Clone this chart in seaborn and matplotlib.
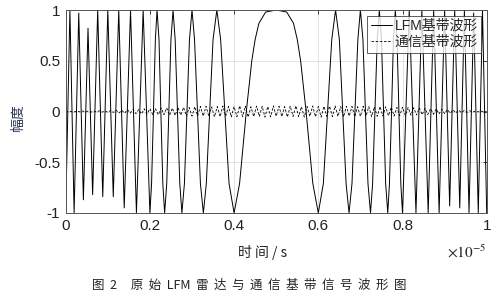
import numpy as np
import pandas as pd
import matplotlib
matplotlib.use("Agg")
import matplotlib.pyplot as plt
import seaborn as sns

# ---- data (time in units of 1e-5 s) ----
lfm_t = [0.000, 0.010, 0.020, 0.031, 0.042, 0.053, 0.064, 0.076, 0.088, 0.100,
         0.113, 0.126, 0.139, 0.154, 0.168, 0.184,
         0.200, 0.204, 0.2085, 0.213, 0.217, 0.2216, 0.226, 0.2307, 0.235,
         0.240, 0.245, 0.250, 0.255, 0.260, 0.2655, 0.271,
         0.276, 0.282, 0.288, 0.294, 0.300, 0.306, 0.313, 0.320, 0.327, 0.334,
         0.342, 0.350, 0.359, 0.368, 0.378, 0.388, 0.400, 0.413, 0.429, 0.442,
         0.450, 0.459, 0.475, 0.500, 0.525, 0.541, 0.550, 0.558, 0.571, 0.587,
         0.600, 0.612, 0.622, 0.632, 0.641, 0.650, 0.658, 0.666, 0.673, 0.680,
         0.687, 0.694, 0.700, 0.706, 0.712, 0.718, 0.724,
         0.729, 0.7345, 0.740, 0.745, 0.750, 0.755, 0.760, 0.765,
         0.769, 0.774, 0.7785, 0.783, 0.787, 0.7915, 0.796,
         0.800, 0.816, 0.832, 0.846, 0.861, 0.874, 0.887, 0.900, 0.912, 0.924,
         0.936, 0.947, 0.958, 0.969, 0.980, 0.990, 1.000]
lfm_y = [-1, 1, -1, 0.97, -0.87, 0.82, -0.82, 1, -0.84, 1,
         -0.84, 1, -0.95, 1, -1, 1,
         -1, -0.71, 0, 0.71, 1, 0.71, 0, -0.71, -1,
         -0.71, 0, 0.71, 1, 0.71, 0, -0.71,
         -1, -0.71, 0, 0.71, 1, 0.71, 0, -0.71, -1, -0.71,
         0, 0.71, 1, 0.71, 0, -0.71, -1, -0.71, 0, 0.5,
         0.71, 0.87, 0.98, 1, 0.98, 0.87, 0.71, 0.5, 0, -0.71,
         -1, -0.71, 0, 0.71, 1, 0.71, 0, -0.71, -1, -0.71,
         0, 0.71, 1, 0.71, 0, -0.71, -1,
         -0.71, 0, 0.71, 1, 0.71, 0, -0.71, -1,
         -0.71, 0, 0.71, 1, 0.71, 0, -0.71,
         -1, 1, -1, 1, -1, 1, -1, 1, -0.93, 1,
         -0.95, 1, -1, 0.97, -1, 1, -1]

comm_y = [0.002, -0.003, 0.002, -0.004, 0.003, -0.003, 0.005, -0.004, 0.004, -0.006,
          0.005, -0.005, 0.007, -0.006, 0.006, -0.008,
          0.010, -0.009, 0.012, -0.014, 0.011, -0.016, 0.018, -0.015, 0.020, -0.022,
          0.019, -0.024, 0.026, -0.023, 0.028,
          -0.030, 0.027, -0.033, 0.035, -0.031, 0.036, -0.038, 0.034, -0.040, 0.042,
          -0.037, 0.041, -0.044, 0.039, -0.045,
          0.047, -0.043, 0.050, -0.046, 0.052, -0.048, 0.045, -0.053, 0.049, -0.051,
          0.055, -0.047, 0.050, -0.054, 0.048, -0.052, 0.056, -0.049, 0.053, -0.055,
          0.047, -0.050, 0.054, -0.048, 0.051, -0.056, 0.049, -0.053, 0.055, -0.047,
          0.052, -0.050, 0.048, -0.054, 0.053, -0.049, 0.056, -0.051, 0.047, -0.055,
          0.050, -0.048, 0.054, -0.052, 0.049, -0.056, 0.051, -0.047, 0.053, -0.050,
          0.055, -0.049, 0.048, -0.053, 0.052, -0.046, 0.050, -0.051, 0.047, -0.049,
          0.052, -0.045, 0.048, -0.050, 0.046, -0.047, 0.049,
          -0.044, 0.046, -0.042, 0.043, -0.045, 0.040, -0.041, 0.042, -0.038, 0.039,
          -0.036, 0.037, -0.034, 0.035, -0.032, 0.031, -0.030, 0.028, -0.027, 0.025,
          -0.024, 0.022, -0.021,
          0.019, -0.017, 0.016, -0.014, 0.013, -0.011, 0.010, -0.008, 0.007, -0.006,
          0.005, -0.004, 0.003, -0.002, 0.001]
comm_t = np.linspace(0, 1, len(comm_y))

xticks = [0, 0.2, 0.4, 0.6, 0.8, 1]
xticklabels = ["0", "0.2", "0.4", "0.6", "0.8", "1"]
yticks = [-1, -0.5, 0, 0.5, 1]
yticklabels = ["-1", "-0.5", "0", "0.5", "1"]
series_names = ["LFM基带波形", "通信基带波形"]

sns.set_theme(style="white")
plt.rcParams['font.family'] = ['Liberation Sans', 'Noto Sans CJK SC', 'DejaVu Sans']
plt.rcParams['axes.unicode_minus'] = False
plt.rcParams['mathtext.fontset'] = 'stix'

fig = plt.figure(figsize=(5.01, 2.96), dpi=100)
ax = fig.add_axes([65.7/501, 1-213/296, 421/501, 203/296])

df_lfm = pd.DataFrame({"t": lfm_t, "y": lfm_y})
df_comm = pd.DataFrame({"t": comm_t, "y": comm_y})
sns.lineplot(data=df_lfm, x="t", y="y", ax=ax, color="black", lw=0.7,
             estimator=None, sort=False, label=series_names[0])
sns.lineplot(data=df_comm, x="t", y="y", ax=ax, color="black", lw=0.6,
             estimator=None, sort=False, label=series_names[1],
             linestyle=(0, (3, 2)))

ax.set_xlim(0, 1)
ax.set_ylim(-1, 1)
ax.set_xticks(xticks)
ax.set_xticklabels(xticklabels)
ax.set_yticks(yticks)
ax.set_yticklabels(yticklabels)
ax.tick_params(direction="in", labelsize=11, length=3, width=0.6, colors="#222222",
               top=True, right=True, pad=4)
ax.grid(True, color="#dddddd", lw=0.6)
for s in ax.spines.values():
    s.set_color("#555555")
    s.set_linewidth(0.7)
ax.set_xlabel("")
ax.set_ylabel("")

leg = ax.legend(loc="upper right", fontsize=10, handlelength=1.5, handletextpad=0.2,
                borderpad=0.25, labelspacing=0.15, frameon=True, fancybox=False,
                borderaxespad=0.4)
leg.get_frame().set_edgecolor("#333333")
leg.get_frame().set_linewidth(0.7)

cjk = ['Noto Sans CJK SC', 'DejaVu Sans']
fig.text(18/501, 1-118/296, "幅度", rotation=90, ha="center", va="center",
         fontsize=10, family=cjk, color="#2a3550")
fig.text(263/501, 1-253/296, "时 间 / s", ha="center", va="center", fontsize=10,
         family=cjk, color="#222222")
fig.text(467/501, 1-252/296, r"$\times10^{-5}$", ha="center", va="center", fontsize=11,
         color="#222222")
fig.text(249/501, 1-285/296,
         "图  2     原  始  LFM  雷  达  与  通  信  基  带  信  号  波  形  图",
         ha="center", va="center", fontsize=9, family=cjk, color="#222222")

fig.savefig("out.png", dpi=100)
